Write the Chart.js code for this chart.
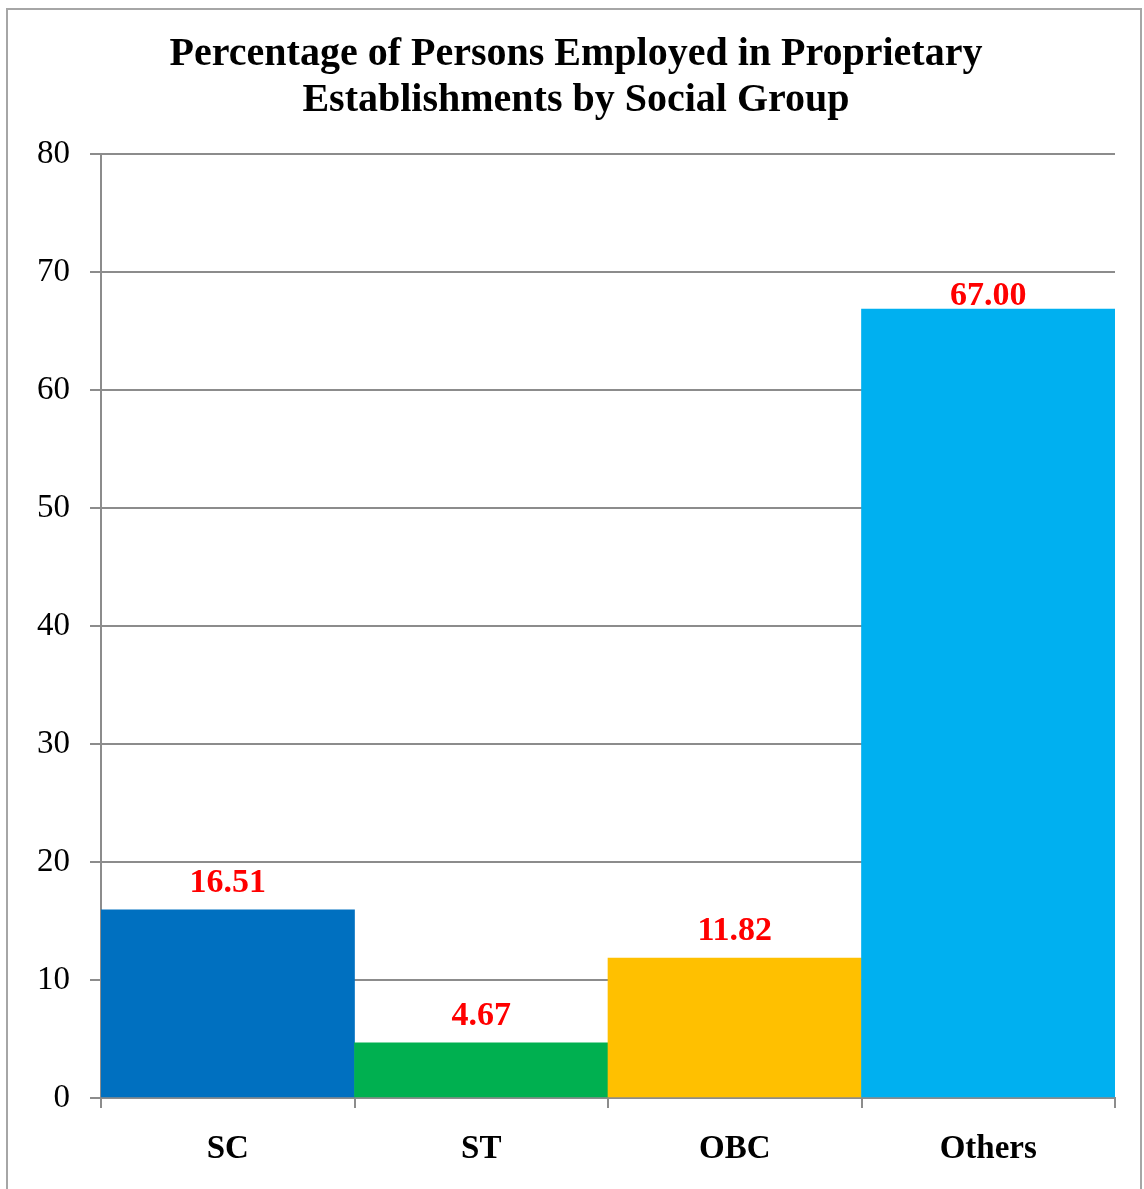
<!DOCTYPE html>
<html>
<head>
<meta charset="utf-8">
<script src="https://cdn.jsdelivr.net/npm/chart.js@4"></script>
<style>
  html, body { margin: 0; padding: 0; background: #fff; }
  #wrap { width: 1144px; height: 1189px; }
</style>
</head>
<body>
<div id="wrap"><canvas id="myChart" width="1144" height="1189"></canvas></div>
<script>
// data
const categories = ["SC", "ST", "OBC", "Others"];
const values = [15.95, 4.67, 11.85, 66.85];
const valueLabels = ["16.51", "4.67", "11.82", "67.00"];
const barColors = ["#0070C0", "#00B050", "#FFC000", "#00B0F0"];
const yTicks = [0, 10, 20, 30, 40, 50, 60, 70, 80];
const titleLines = ["Percentage of Persons Employed in Proprietary", "Establishments by Social Group"];

const serif = "'Liberation Serif', serif";
const gridGray = "#8c8c8c";

// outer frame + title (centred on the whole frame, not the plot)
const framePlugin = {
  id: "frame",
  beforeDraw(chart) {
    const c = chart.ctx;
    c.save();
    c.fillStyle = "#fff";
    c.fillRect(0, 0, chart.width, chart.height);
    c.strokeStyle = "#a6a6a6";
    c.lineWidth = 2;
    c.strokeRect(7, 9, 1134, 1200);
    c.fillStyle = "#000";
    c.font = "bold 40px " + serif;
    c.textAlign = "center";
    c.textBaseline = "alphabetic";
    titleLines.forEach((t, i) => c.fillText(t, 576, 65 + i * 46));
    c.restore();
  }
};

// red value labels above bars (kept below the 70 line, like the original)
const valueLabelPlugin = {
  id: "valueLabels",
  afterDatasetsDraw(chart) {
    const c = chart.ctx;
    const meta = chart.getDatasetMeta(0);
    const limit = chart.scales.y.getPixelForValue(70) + 33;
    c.save();
    c.fillStyle = "#ff0000";
    c.font = "bold 34px " + serif;
    c.textAlign = "center";
    c.textBaseline = "alphabetic";
    meta.data.forEach((bar, i) => {
      c.fillText(valueLabels[i], bar.x, Math.max(bar.y - 18, limit));
    });
    c.restore();
  }
};

const ctx = document.getElementById("myChart").getContext("2d");

const config = {
  type: "bar",
  data: {
    labels: categories,
    datasets: [
      {
        data: values,
        backgroundColor: barColors,
        borderWidth: 0,
        barPercentage: 1,
        categoryPercentage: 1,
      },
    ],
  },
  options: {
    responsive: false,
    animation: false,
    layout: { padding: { left: 0, right: 29, top: 154, bottom: 0 } },
    plugins: {
      legend: { display: false },
      tooltip: { enabled: false },
      title: { display: false },
    },
    scales: {
      x: {
        grid: {
          offset: true,
          drawOnChartArea: false,
          drawTicks: true,
          tickLength: 10,
          color: gridGray,
          lineWidth: 2,
        },
        border: { color: gridGray, width: 2 },
        ticks: {
          color: "#000",
          font: { family: serif, size: 33, weight: "bold" },
          padding: 22,
        },
        afterFit(scale) { scale.height = 91; },
      },
      y: {
        min: 0,
        max: 80,
        afterBuildTicks(scale) {
          scale.ticks = yTicks.map(v => ({ value: v }));
        },
        grid: {
          color: gridGray,
          lineWidth: 2,
          tickLength: 11,
        },
        border: { color: gridGray, width: 2 },
        ticks: {
          color: "#000",
          font: { family: serif, size: 33 },
          padding: 20,
        },
        afterFit(scale) { scale.width = 101; },
      },
    },
  },
  plugins: [framePlugin, valueLabelPlugin],
};

const myChart = new Chart(ctx, config);
</script>
</body>
</html>
